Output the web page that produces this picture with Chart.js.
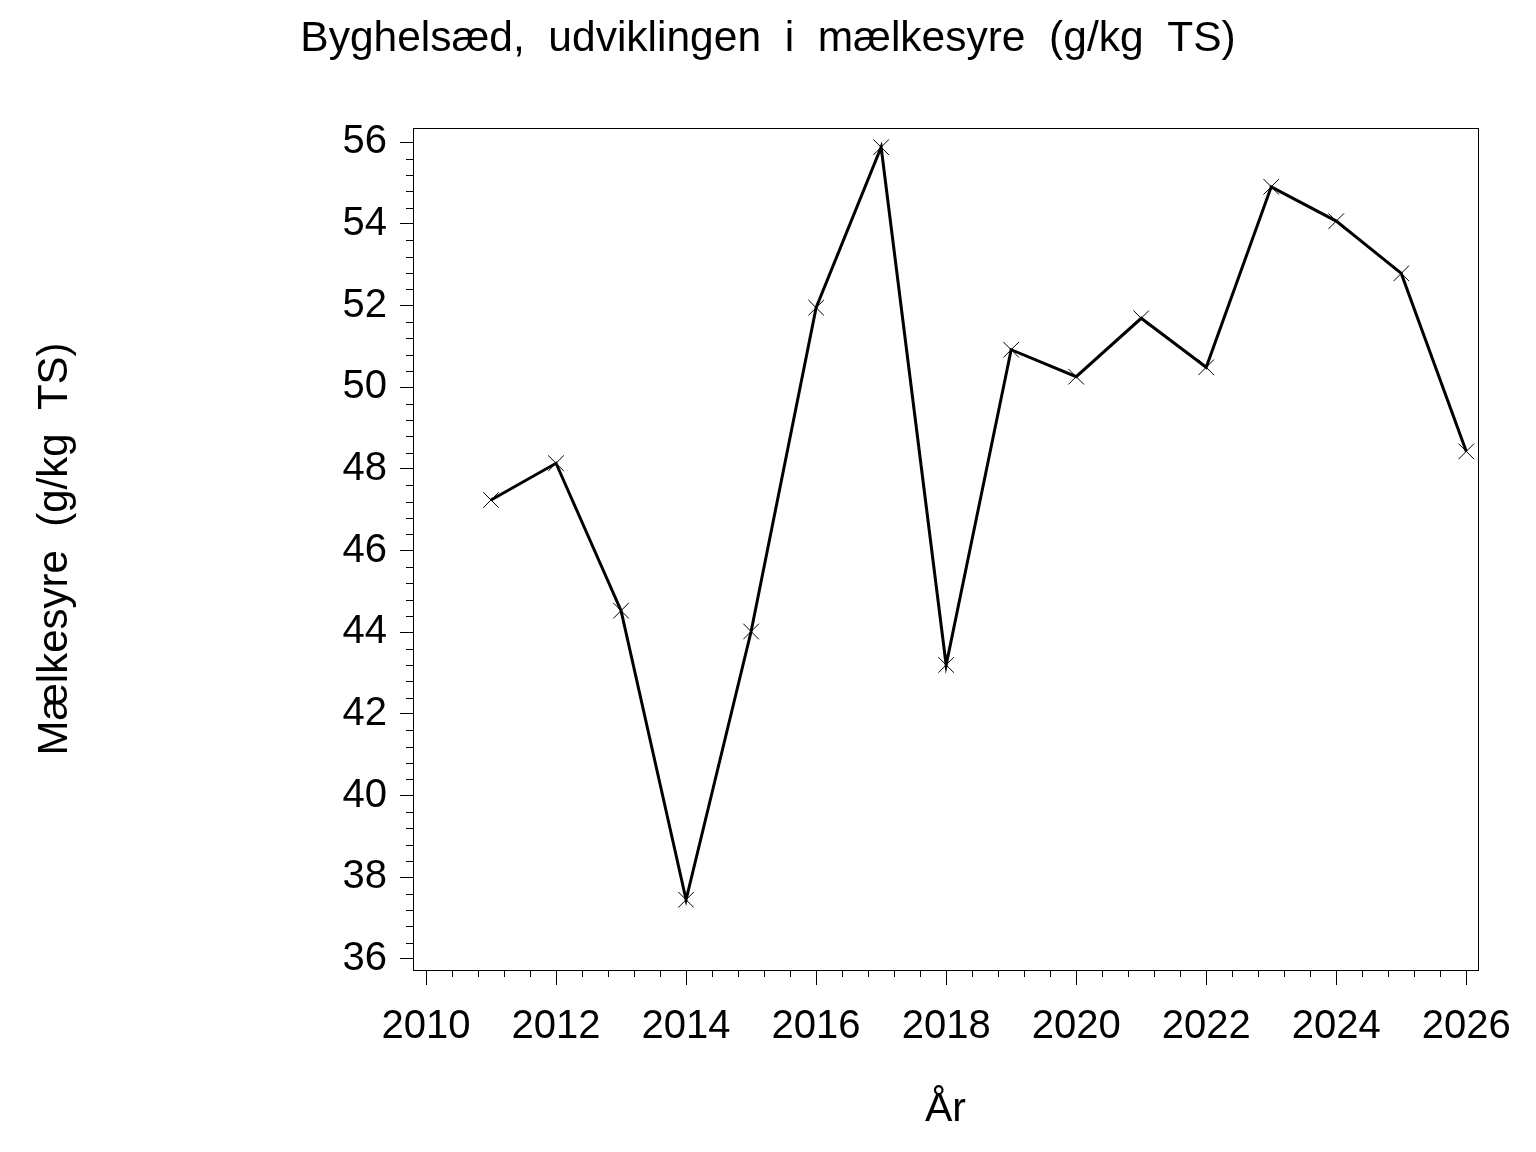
<!DOCTYPE html>
<html>
<head>
<meta charset="utf-8">
<script src="https://cdn.jsdelivr.net/npm/chart.js@4"></script>
<style>
  html, body { margin: 0; padding: 0; background: #fff; }
  #wrap { width: 1536px; height: 1152px; }
</style>
</head>
<body>
<div id="wrap"><canvas id="myChart" width="1536" height="1152"></canvas></div>
<script>
var years = [2011, 2012, 2013, 2014, 2015, 2016, 2017, 2018, 2019, 2020, 2021, 2022, 2023, 2024, 2025, 2026];
var lactic = [47.24, 48.14, 44.53, 37.45, 44.02, 51.95, 55.88, 43.2, 50.92, 50.26, 51.69, 50.49, 54.91, 54.07, 52.79, 48.43];
var xTicks = [2010, 2012, 2014, 2016, 2018, 2020, 2022, 2024, 2026];
var yTicks = [36, 38, 40, 42, 44, 46, 48, 50, 52, 54, 56];

var fontName = "'Liberation Sans', Arial, sans-serif";

// minor ticks (5 per major interval) and the closed plot frame
var framePlugin = {
    id: "frame",
    afterDraw: function(chart){
        var ctx = chart.ctx;
        var a = chart.chartArea;
        var xs = chart.scales.x, ys = chart.scales.y;
        ctx.save();
        ctx.strokeStyle = "#000";
        ctx.lineWidth = 1;
        ctx.strokeRect(Math.round(a.left) + 0.5, Math.round(a.top) + 0.5,
                       Math.round(a.right - a.left), Math.round(a.bottom - a.top));
        ctx.beginPath();
        for (var i = 0; i < xTicks.length - 1; i++) {
            var step = (xTicks[i + 1] - xTicks[i]) / 5;
            for (var k = 1; k < 5; k++) {
                var px = Math.round(xs.getPixelForValue(xTicks[i] + k * step)) + 0.5;
                ctx.moveTo(px, a.bottom);
                ctx.lineTo(px, a.bottom + 7);
            }
        }
        for (var j = 0; j < yTicks.length - 1; j++) {
            var ystep = (yTicks[j + 1] - yTicks[j]) / 5;
            for (var m = 1; m < 5; m++) {
                var py = Math.round(ys.getPixelForValue(yTicks[j] + m * ystep)) + 0.5;
                ctx.moveTo(a.left, py);
                ctx.lineTo(a.left - 7, py);
            }
        }
        ctx.stroke();
        ctx.restore();
    }
};

function showChart(){
    var points = years.map(function(y, i){ return {x: y, y: lactic[i]}; });

    new Chart("myChart", {
        type: "line",
        data: {
            datasets: [{
                data: points,
                borderColor: "#000",
                borderWidth: 3,
                pointStyle: "crossRot",
                pointRadius: 11,
                pointBorderWidth: 1,
                pointBorderColor: "#000",
                pointBackgroundColor: "#000",
                tension: 0,
                clip: false
            }]
        },
        options: {
            responsive: false,
            animation: false,
            devicePixelRatio: 1,
            layout: { padding: 0 },
            plugins: {
                legend: { display: false },
                tooltip: { enabled: false },
                title: {
                    display: true,
                    text: "Byghelsæd,  udviklingen  i  mælkesyre  (g/kg  TS)",
                    color: "#000",
                    font: { family: fontName, size: 42.5, weight: "normal", lineHeight: 1.2 },
                    padding: { top: 14, bottom: 63 }
                }
            },
            scales: {
                x: {
                    type: "linear",
                    min: 2009.8,
                    max: 2026.18,
                    afterFit: function(s){ s.height = 182; },
                    afterBuildTicks: function(s){ s.ticks = xTicks.map(function(v){ return {value: v}; }); },
                    grid: { display: true, drawOnChartArea: false, drawTicks: true, tickLength: 15, tickColor: "#000", tickWidth: 1 },
                    border: { display: true, color: "#000", width: 1 },
                    ticks: { color: "#000", padding: 18, maxRotation: 0, autoSkip: false,
                             font: { family: fontName, size: 40 },
                             callback: function(v){ return String(v); } },
                    title: { display: true, text: "År", color: "#000",
                             font: { family: fontName, size: 41 }, padding: { top: 0, bottom: 18 } }
                },
                y: {
                    type: "linear",
                    min: 35.73,
                    max: 56.35,
                    afterFit: function(s){ s.width = 413; },
                    afterBuildTicks: function(s){ s.ticks = yTicks.map(function(v){ return {value: v}; }); },
                    grid: { display: true, drawOnChartArea: false, drawTicks: true, tickLength: 13, tickColor: "#000", tickWidth: 1 },
                    border: { display: true, color: "#000", width: 1 },
                    ticks: { color: "#000", padding: 13, autoSkip: false,
                             font: { family: fontName, size: 40 } },
                    title: { display: true, text: "Mælkesyre  (g/kg  TS)", color: "#000",
                             font: { family: fontName, size: 42 }, padding: { top: 30, bottom: 0 } }
                },
                // empty right-hand spacer so the plot stops at the same place as the original
                yRight: {
                    type: "linear",
                    position: "right",
                    min: 35.73,
                    max: 56.35,
                    afterFit: function(s){ s.width = 58; },
                    grid: { display: false },
                    border: { display: false },
                    ticks: { display: false }
                }
            }
        },
        plugins: [framePlugin]
    });
}

function loadItems(){
    showChart();
}

window.addEventListener("load", loadItems);
</script>
</body>
</html>
